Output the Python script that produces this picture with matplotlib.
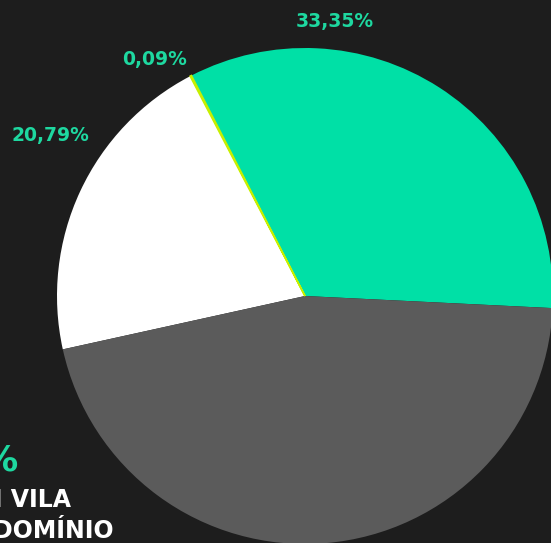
import matplotlib
matplotlib.use("Agg")
import matplotlib.pyplot as plt

BG = "#1d1d1d"
GREEN = "#00e0a6"
LABEL_GREEN = "#1ed8a0"
LIME = "#c6ef00"
WHITE = "#ffffff"
GRAY = "#5b5b5b"

# share of each housing type, in %
categories = ["Apartamento", "Outros", "Casa", "Casa em vila / condomínio"]
shares = [33.35, 0.09, 20.79, 45.77]
share_labels = ["33,35%", "0,09%", "20,79%", "45,77%"]
colors = [GREEN, LIME, WHITE, GRAY]

plt.rcParams["font.family"] = ["DejaVu Sans"]

W, H = 551, 543
fig = plt.figure(figsize=(W / 100, H / 100), dpi=100, facecolor=BG)

# pie centre at (305, 296) px from top-left, radius 248 px
cx, cy, r = 305, 296, 248
ax = fig.add_axes([(cx - r) / W, (H - cy - r) / H, 2 * r / W, 2 * r / H])
ax.set_facecolor(BG)
wedges, _ = ax.pie(shares, colors=colors, startangle=-2.8, counterclock=True,
                   radius=1.0, wedgeprops=dict(linewidth=0))
# the tiny slice would vanish at this size, so give it a thin outline
wedges[1].set_edgecolor(LIME)
wedges[1].set_linewidth(1.2)
wedges[1].set_zorder(3)
ax.set_xlim(-1, 1)
ax.set_ylim(-1, 1)
ax.axis("off")

# slice labels (pixel positions, top-left origin)
label_pos = [(335, 22), (155, 60), (50, 135)]
for (x, y), txt in zip(label_pos, share_labels[:3]):
    fig.text(x / W, 1 - y / H, txt, color=LABEL_GREEN, fontsize=13.5,
             fontweight="bold", ha="center", va="center")

# caption block at the lower left, running off the edge
fig.text(19 / W, 1 - 461 / H, share_labels[3], color=LABEL_GREEN,
         fontsize=26, fontweight="bold", ha="right", va="center")
fig.text(71 / W, 1 - 500 / H, "EM VILA", color=WHITE, fontsize=17,
         fontweight="bold", ha="right", va="center")
fig.text(115 / W, 1 - 531 / H, "CONDOMÍNIO", color=WHITE, fontsize=17,
         fontweight="bold", ha="right", va="center")

fig.savefig("out.png", dpi=100, facecolor=BG)
